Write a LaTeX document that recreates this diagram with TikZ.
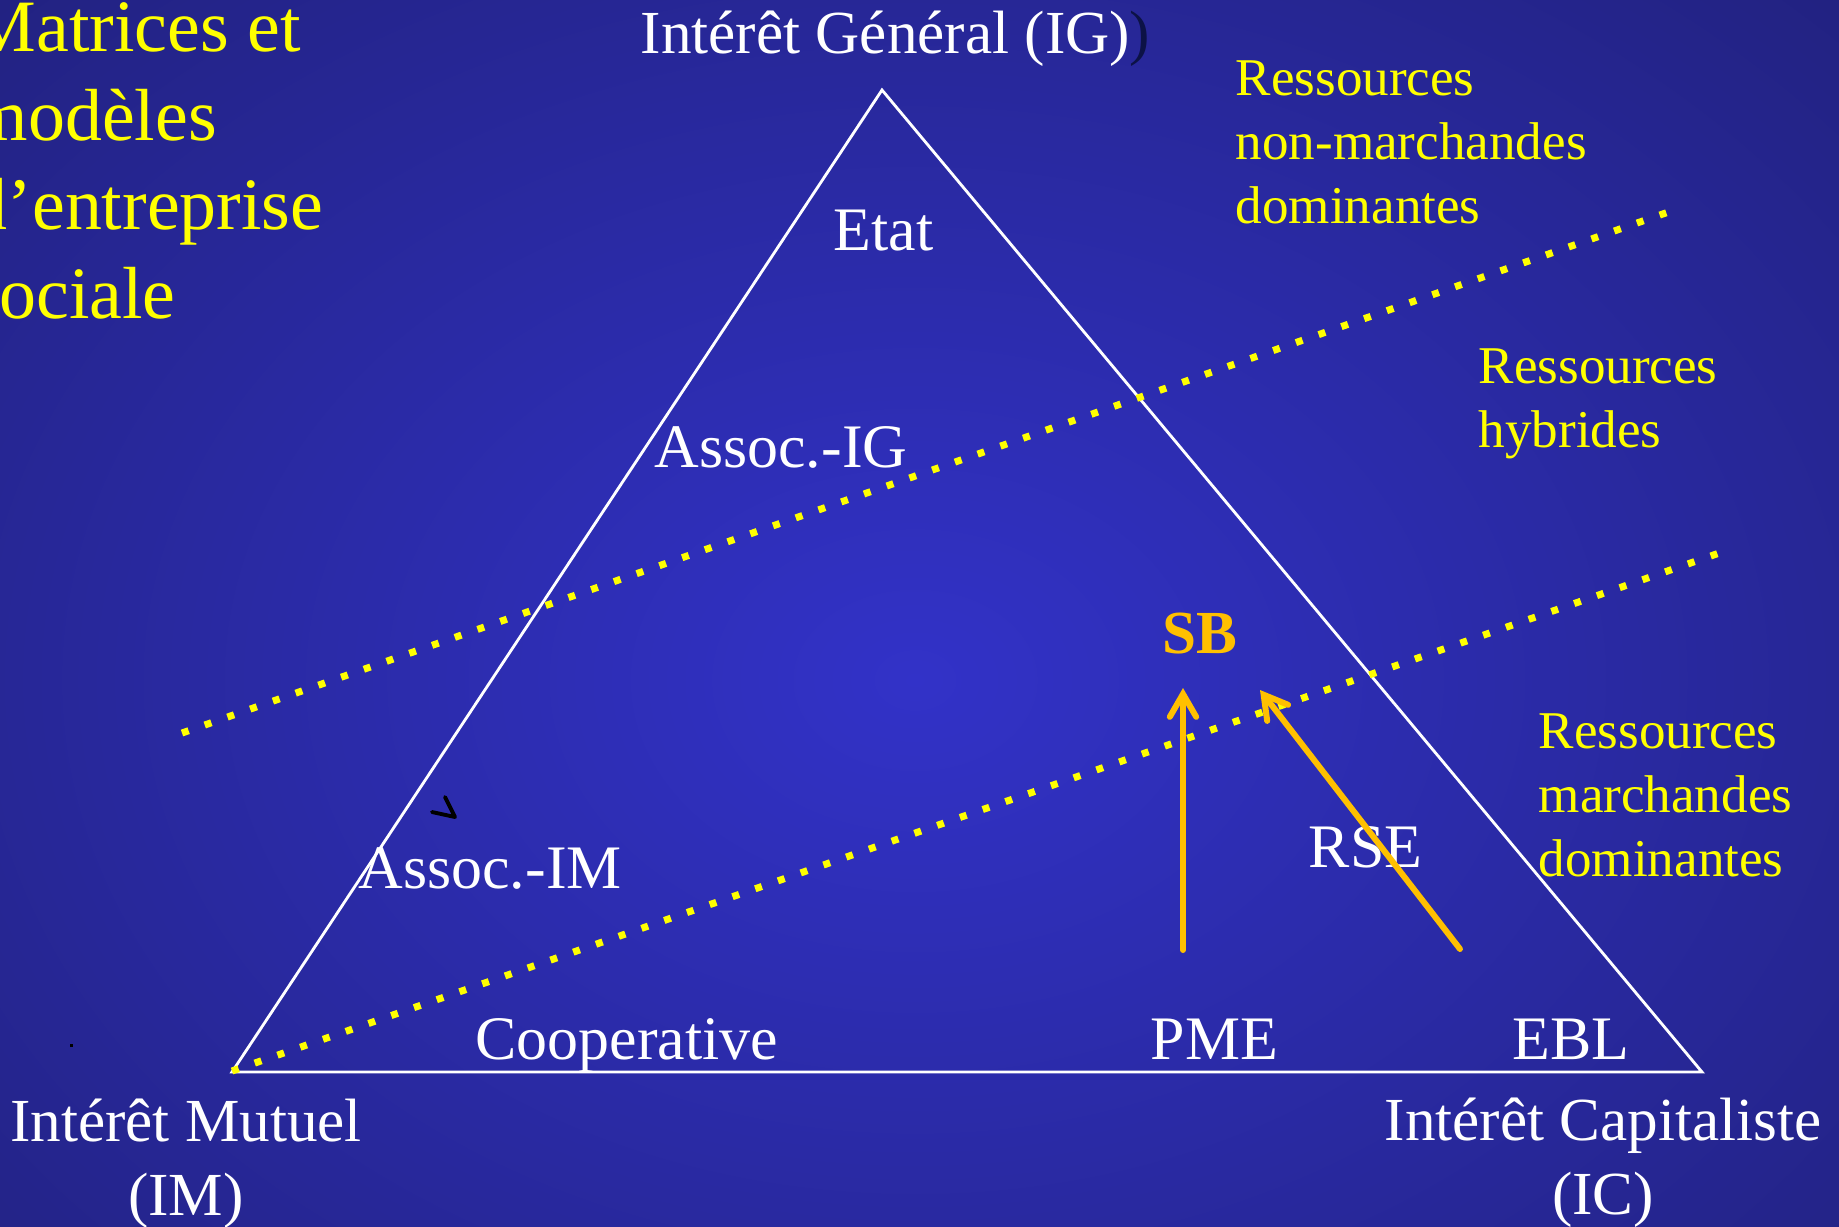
\documentclass[tikz,border=0pt]{standalone}
\usepackage{fontspec}
\setmainfont{Liberation Serif}
\usepackage{xcolor}
\usetikzlibrary{arrows.meta, positioning}
\definecolor{bgin}{RGB}{50,50,200}
\definecolor{bgout}{RGB}{26,26,94}
\definecolor{jaune}{RGB}{255,255,0}
\definecolor{orsb}{RGB}{255,192,0}
\definecolor{parenfonce}{RGB}{12,18,70}

\begin{document}
\begin{tikzpicture}[x=0.01cm, y=-0.01cm,
                etiquette/.style={text=white, inner sep=0pt, anchor=base west,
                  font=\fontsize{17.6}{21}\selectfont},
                coin/.style={etiquette, anchor=base, align=center,
                  font=\fontsize{17.4}{20.8}\selectfont},
                ressource/.style={text=jaune, inner sep=0pt, anchor=base west, align=left,
                  font=\fontsize{15.1}{18.2}\selectfont},
                pointille/.style={jaune, line width=2pt, dash pattern=on 2pt off 4.85pt},
                fleche/.style={orsb, line width=1.7pt, line cap=round,
                  -{Straight Barb[length=6.5pt, width=7.5pt, line cap=round]}}
                ]
                \useasboundingbox (0,0) rectangle (1839,1226);
                \clip (0,0) rectangle (1839,1226);
                \shade[inner color=bgin, outer color=bgout] (915,680) ellipse (1950 and 1450);
                % sommets du triangle
                \coordinate (sIG) at (882,90);
                \coordinate (sIM) at (232,1072);
                \coordinate (sIC) at (1702,1072);
                \draw[white, line width=0.8pt] (sIG) -- (sIM) -- (sIC) -- cycle;
                % frontieres des ressources
                \coordinate (h1) at (182,733);
                \coordinate (h2) at (1677,209);
                \coordinate (b1) at (232,1071);
                \coordinate (b2) at (1725,551);
                \draw[pointille] (h1) -- (h2);
                \draw[pointille] (b1) -- (b2);
                % titre et poles (base = derniere ligne)
                \node[ressource, font=\fontsize{21}{25.3}\selectfont] (titre) at (-30,318)
                  {Matrices et\\modèles\\d’entreprise\\sociale};
                \node[etiquette, font=\fontsize{17.4}{20.8}\selectfont] (IG) at (640,53)
                  {Intérêt Général (IG)\textcolor{parenfonce}{)}};
                \node[coin] (IM) at (186,1215) {Intérêt Mutuel\\(IM)};
                \node[coin] (IC) at (1603,1214) {Intérêt Capitaliste\\(IC)};
                % organisations
                \node[etiquette] (etat) at (833,250) {Etat};
                \node[etiquette] (assig) at (654,467) {Assoc.-IG};
                \node[etiquette] (assim) at (358,888) {Assoc.-IM};
                \node[etiquette] (coop) at (475,1059) {Cooperative};
                \node[etiquette] (pme) at (1150,1059) {PME};
                \node[etiquette] (ebl) at (1512,1059) {EBL};
                \node[etiquette] (rse) at (1308,867) {RSE};
                \node[etiquette, text=orsb, font=\fontsize{17.4}{20.8}\selectfont\bfseries] (sb) at (1162,653) {SB};
                % ressources
                \node[ressource] (rnm) at (1235,223) {Ressources\\non-marchandes\\dominantes};
                \node[ressource] (rh) at (1478,447) {Ressources\\hybrides};
                \node[ressource] (rm) at (1538,876) {Ressources\\marchandes\\dominantes};
                % fleches vers SB
                \coordinate (pmebas) at (1183,950);
                \coordinate (pmehaut) at (1183,688);
                \coordinate (rsebas) at (1460,949);
                \coordinate (rsehaut) at (1260,690);
                \draw[fleche] (pmebas) -- (pmehaut);
                \draw[fleche] (rsebas) -- (rsehaut);
                % traces parasites
                \coordinate (m1) at (432,812);
                \coordinate (m2) at (455,817);
                \coordinate (m3) at (445,797);
                \draw[black, line width=1.1pt, line join=round, line cap=round] (m1) -- (m2) -- (m3);
                \fill[black] (70,1044) rectangle (73,1047);
\end{tikzpicture}
\end{document}
